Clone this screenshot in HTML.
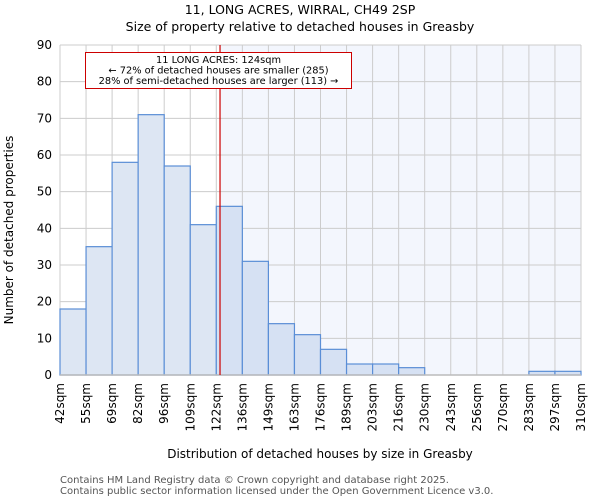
<!DOCTYPE html>
<html><head><meta charset="utf-8"><style>
body{margin:0;background:#fff;font-family:"DejaVu Sans","Liberation Sans",sans-serif}
</style></head><body>
<svg width="600" height="500" xmlns="http://www.w3.org/2000/svg" font-family="DejaVu Sans, Liberation Sans, sans-serif">
<text x="300" y="14" text-anchor="middle" font-size="12.5">11, LONG ACRES, WIRRAL, CH49 2SP</text>
<text x="300" y="31" text-anchor="middle" font-size="12.5">Size of property relative to detached houses in Greasby</text>
<g id="plot"></g>
<text transform="translate(13,230) rotate(-90)" text-anchor="middle" font-size="12">Number of detached properties</text>
<text x="320" y="458" text-anchor="middle" font-size="12">Distribution of detached houses by size in Greasby</text>
<text x="60" y="483" font-size="10" fill="#555">Contains HM Land Registry data © Crown copyright and database right 2025.</text>
<text x="60" y="494" font-size="10" fill="#555">Contains public sector information licensed under the Open Government Licence v3.0.</text>
</svg>
<script>
const categories=["42sqm","55sqm","69sqm","82sqm","96sqm","109sqm","122sqm","136sqm","149sqm","163sqm","176sqm","189sqm","203sqm","216sqm","230sqm","243sqm","256sqm","270sqm","283sqm","297sqm","310sqm"];
const counts=[18,35,58,71,57,41,46,31,14,11,7,3,3,2,0,0,0,0,1,1];
const yTicks=[0,10,20,30,40,50,60,70,80,90];
const propertySize=124;
const annotationLines=["11 LONG ACRES: 124sqm","← 72% of detached houses are smaller (285)","28% of semi-detached houses are larger (113) →"];
const NS="http://www.w3.org/2000/svg";
const g=document.getElementById('plot');
const X0=60,X1=581,Y0=375,Y1=45,yMax=90;
const n=counts.length,bw=(X1-X0)/n;
const xEdgeVal=i=>parseFloat(categories[i]);
function xPix(v){for(let i=0;i<n;i++){const a=xEdgeVal(i),b=xEdgeVal(i+1);if(v>=a&&v<=b)return X0+(i+(v-a)/(b-a))*bw;}return X1;}
const yPix=v=>Y0-(v/yMax)*(Y0-Y1);
function mk(t,a){const e=document.createElementNS(NS,t);for(const k in a)e.setAttribute(k,a[k]);g.appendChild(e);return e;}
const lx=xPix(propertySize);
let r=mk('rect',{x:lx,y:Y1,width:X1-lx,height:Y0-Y1,fill:'#f3f6fd'});


yTicks.forEach(t=>{const l=mk('line',{x1:X0,x2:X1,y1:yPix(t),y2:yPix(t),stroke:'#cccccc'});


const tx=mk('text',{x:X0-8,y:yPix(t)+4,'text-anchor':'end','font-size':12});tx.textContent=t;

});
categories.forEach((c,i)=>{const x=X0+i*bw;const l=mk('line',{x1:x,x2:x,y1:Y1,y2:Y0,stroke:'#cccccc'});


const tx=mk('text',{transform:`translate(${x+4},${Y0+8}) rotate(-90)`,'text-anchor':'end','font-size':12});tx.textContent=c;

});
counts.forEach((v,i)=>{const x=X0+i*bw;const b=mk('rect',{x:x,y:yPix(v),width:bw,height:Y0-yPix(v),fill:x+bw/2<lx?'#dde6f3':'#d6e1f3',stroke:'#5a8ed6','stroke-width':1.2});

});
let ax=mk('line',{x1:X0,x2:X1,y1:Y0,y2:Y0,stroke:'#bbbbbb','stroke-width':1.5});


let pl=mk('line',{x1:lx,x2:lx,y1:Y1,y2:Y0,stroke:'#cc0000','stroke-width':1.2});


let box=mk('rect',{x:85.5,y:52.5,width:266,height:36,fill:'#fff',stroke:'#cc0000'});


annotationLines.forEach((s,i)=>{const t=mk('text',{x:218.5,y:63+i*10.5,'text-anchor':'middle','font-size':9.8});t.textContent=s;

});
</script>
</body></html>
